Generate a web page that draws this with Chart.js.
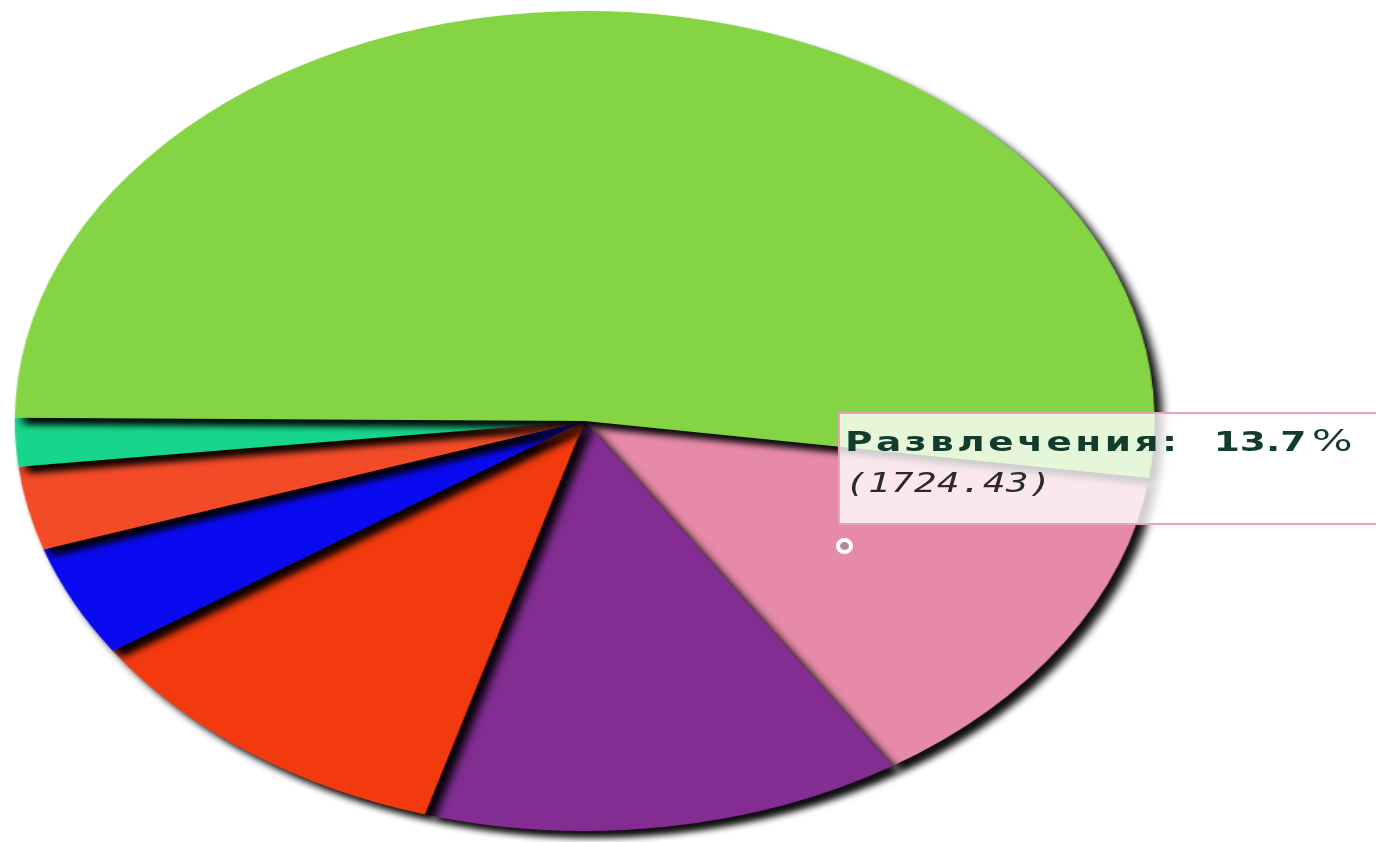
<!DOCTYPE html>
<html>
<head>
<meta charset="utf-8">
<script src="https://cdn.jsdelivr.net/npm/chart.js@4"></script>
<style>
  html, body { margin: 0; padding: 0; background: #fff; }
  body { width: 1376px; height: 842px; position: relative; overflow: hidden; }
  #pieWrap {
    position: absolute; left: 12px; top: 0;
    width: 840px; height: 842px;
    transform: scaleX(1.39); transform-origin: 0 0;
  }
  #tip {
    position: absolute; left: 838px; top: 412px;
    width: 560px; height: 113px;
    background: rgba(255, 255, 255, 0.8);
    border: 2px solid #e9a3bc;
    box-sizing: border-box;
  }
  #tipInner {
    position: absolute; left: 5px; top: 8px;
    transform: scaleX(1.39); transform-origin: 0 0;
    white-space: pre;
  }
  #tipTitle { font: bold 27px "DejaVu Sans", sans-serif; letter-spacing: 2.5px; color: #123c2c; }
  #tipTitle .num { letter-spacing: 0; }
  #tipTitle .pct { font-weight: normal; font-size: 31px; letter-spacing: 0; margin-left: 4px; }
  #tipValue { font: italic 27px "DejaVu Sans Mono", monospace; letter-spacing: 0.3px; color: #2a2a2a; margin-top: 9px; }
  #cursor {
    position: absolute; left: 836px; top: 538px;
    width: 9px; height: 8px; border: 4px solid #fff; border-radius: 50%;
    background: #b98596;
  }
</style>
</head>
<body>
<div id="pieWrap"><canvas id="pieCanvas"></canvas></div>
<div id="tip"><div id="tipInner"><div id="tipTitle"></div><div id="tipValue"></div></div></div>
<div id="cursor"></div>
<script>
// Расходы по категориям (drawn clockwise starting from the pink slice)
const categories = ['Развлечения', 'Одежда', 'Транспорт', 'Связь', 'Здоровье', 'Прочее', 'Продукты'];
const amounts = [1724.43, 1712, 1385, 554, 415, 239, 6558];
const colors = ['#e68aa8', '#832d93', '#f33a0e', '#0a0af0', '#f34b28', '#17d68c', '#84d444'];
const activeIndex = 0;

// dark drop shadow under the slices, like the old flash chart
const shadowPlugin = {
    id: 'sliceShadow',
    beforeDatasetsDraw(chart) {
        const ctx = chart.ctx;
        ctx.save();
        ctx.shadowColor = 'rgba(0, 0, 0, 0.95)';
        ctx.shadowBlur = 6;
        ctx.shadowOffsetX = 6;
        ctx.shadowOffsetY = 7;
    },
    afterDatasetsDraw(chart) {
        chart.ctx.restore();
    }
};

const canvas = document.getElementById('pieCanvas');
const pieChart = new Chart(canvas, {
    type: 'pie',
    data: {
        labels: categories,
        datasets: [{
            data: amounts,
            backgroundColor: colors,
            borderWidth: 0,
            hoverOffset: 0,
            offset: 0
        }]
    },
    options: {
        responsive: true,
        maintainAspectRatio: false,
        animation: false,
        events: [],
        rotation: 98,
        layout: {
            padding: { top: 11, bottom: 11, left: 0, right: 16 }
        },
        plugins: {
            legend: { display: false },
            tooltip: { enabled: false }
        }
    },
    plugins: [shadowPlugin]
});

// static tooltip for the highlighted slice
const total = amounts.reduce((a, b) => a + b, 0);
const pct = amounts[activeIndex] / total * 100;
document.getElementById('tipTitle').innerHTML =
    categories[activeIndex] + ':  <span class="num">' + pct.toFixed(1) + '</span><span class="pct">%</span>';
document.getElementById('tipValue').textContent = '(' + amounts[activeIndex].toFixed(2) + ')';
</script>
</body>
</html>
